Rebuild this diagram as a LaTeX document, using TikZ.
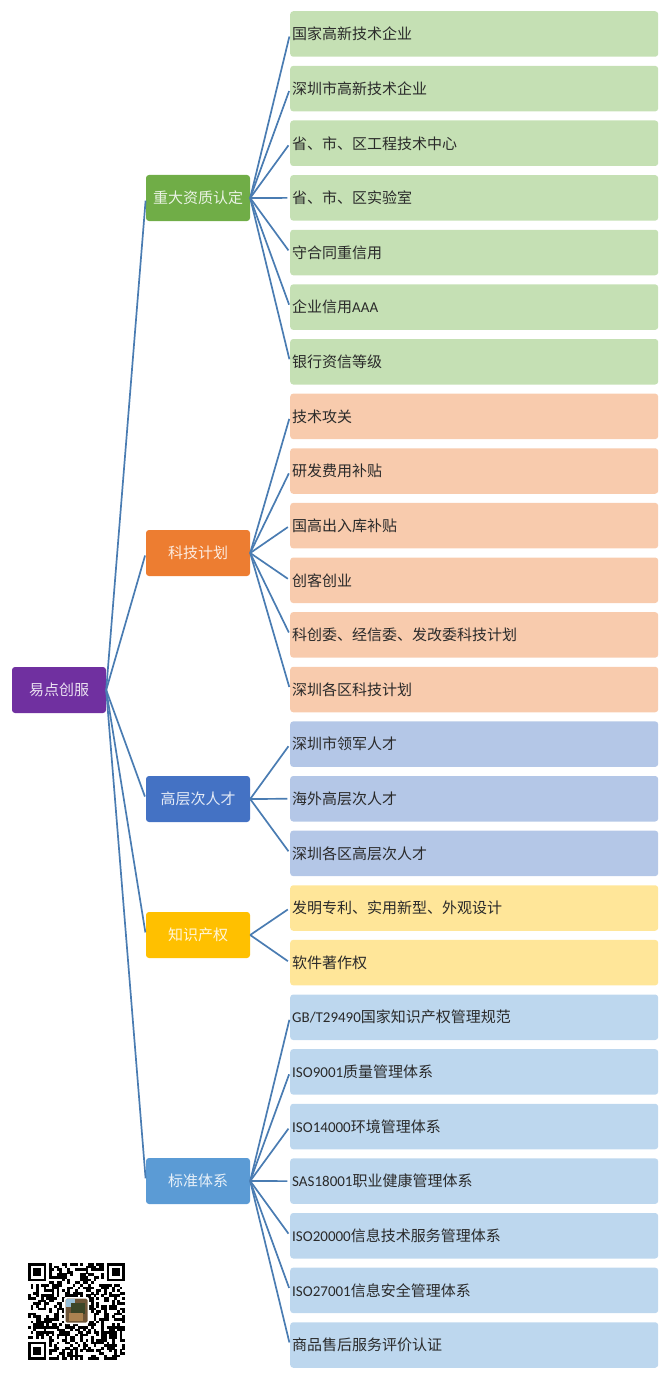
\documentclass[tikz,border=0pt]{standalone}
\usepackage{fontspec}
\setmainfont{Noto Sans CJK SC}
\newfontfamily\lat{Carlito}
\definecolor{lineblue}{HTML}{4A7CB2}
\definecolor{txt}{HTML}{2A2A2A}
\definecolor{lg}{HTML}{C5E0B4}
\definecolor{lo}{HTML}{F8CBAD}
\definecolor{ll}{HTML}{B4C7E7}
\definecolor{ly}{HTML}{FFE699}
\definecolor{lb}{HTML}{BDD7EE}
\definecolor{mr}{HTML}{7030A0}
\definecolor{mg}{HTML}{70AD47}
\definecolor{mo}{HTML}{ED7D31}
\definecolor{ml}{HTML}{4472C4}
\definecolor{my}{HTML}{FFC000}
\definecolor{mb}{HTML}{5B9BD5}
\definecolor{qa}{HTML}{6E5537}
\definecolor{qb}{HTML}{96BED7}
\definecolor{qc}{HTML}{3C4628}
\definecolor{qd}{HTML}{AA8250}
\tikzset{
  x=1pt,y=-1pt,
  box/.style={rounded corners=3pt,inner sep=0pt,font=\fontsize{15}{16}\selectfont},
  leaf/.style={box,fill=#1,text=txt,minimum height=45.5pt,text width=364pt,align=left,inner xsep=2pt,anchor=west},
  mainb/.style={box,fill=#1,text=white,text opacity=.85,minimum width=104pt,minimum height=46pt,align=center},
  link/.style={draw=lineblue,line width=1.7pt,shorten >=2.6pt},
  qrm/.style={fill=black}
}
\begin{document}
\begin{tikzpicture}
\useasboundingbox (0,0) rectangle (669,1383);
% root and main nodes
\node[mainb=mr,minimum width=94pt] (root) at (59,690) {易点创服};
\node[mainb=mg] (m1) at (198,198) {重大资质认定};
\node[mainb=mo] (m2) at (198,553) {科技计划};
\node[mainb=ml] (m3) at (198,799) {高层次人才};
\node[mainb=my] (m4) at (198,935) {知识产权};
\node[mainb=mb] (m5) at (198,1181) {标准体系};
% leaves
\foreach \i/\c/\t in {
 1/lg/国家高新技术企业,2/lg/深圳市高新技术企业,3/lg/省、市、区工程技术中心,4/lg/省、市、区实验室,5/lg/守合同重信用,6/lg/企业信用{\lat AAA},7/lg/银行资信等级,
 8/lo/技术攻关,9/lo/研发费用补贴,10/lo/国高出入库补贴,11/lo/创客创业,12/lo/科创委、经信委、发改委科技计划,13/lo/深圳各区科技计划,
 14/ll/深圳市领军人才,15/ll/海外高层次人才,16/ll/深圳各区高层次人才,
 17/ly/发明专利、实用新型、外观设计,18/ly/软件著作权,
 19/lb/{\lat GB/T29490}国家知识产权管理规范,20/lb/{\lat ISO9001}质量管理体系,21/lb/{\lat ISO14000}环境管理体系,22/lb/{\lat SAS18001}职业健康管理体系,23/lb/{\lat ISO20000}信息技术服务管理体系,24/lb/{\lat ISO27001}信息安全管理体系,25/lb/商品售后服务评价认证}
{
  \pgfmathsetmacro\yy{34+(\i-1)*54.625}
  \node[leaf=\c] (l\i) at (290,\yy) {\t};
}
% connectors
\foreach \m in {1,...,5} \draw[link] (root.east) -- (m\m.west);
\foreach \l in {1,...,7} \draw[link] (m1.east) -- (l\l.west);
\foreach \l in {8,...,13} \draw[link] (m2.east) -- (l\l.west);
\foreach \l in {14,15,16} \draw[link] (m3.east) -- (l\l.west);
\foreach \l in {17,18} \draw[link] (m4.east) -- (l\l.west);
\foreach \l in {19,...,25} \draw[link] (m5.east) -- (l\l.west);
% QR code
\begin{scope}[shift={(28,1263)},x=2.62pt,y=-2.62pt]
\pgfmathsetseed{4711}
\foreach \r in {0,...,36}{\foreach \q in {0,...,36}{
  \pgfmathsetmacro\v{rnd}
  \pgfmathparse{(\v<0.52)?1:0}\let\on\pgfmathresult
  \ifdim\on pt>0.5pt
    \pgfmathparse{((\r<8&&\q<8)||(\r<8&&\q>28)||(\r>28&&\q<8))?1:0}
    \ifdim\pgfmathresult pt<0.5pt
      \fill[qrm] (\q,\r) rectangle ++(1.02,1.02);
    \fi
  \fi
}}
\foreach \a/\b in {0/0,30/0,0/30}{
  \fill[qrm] (\a,\b) rectangle ++(7,7);
  \fill[white] (\a+1,\b+1) rectangle ++(5,5);
  \fill[qrm] (\a+2,\b+2) rectangle ++(3,3);
}
\end{scope}
\fill[white,rounded corners=2pt] (64,1297) rectangle (89,1324);
\fill[qa,rounded corners=1.5pt] (65.5,1298.5) rectangle (87.5,1322.5);
\fill[qb] (66,1299) rectangle (75,1307);
\fill[qc] (71,1303) rectangle (85,1314);
\fill[qd] (69,1313) rectangle (83,1321);
\end{tikzpicture}
\end{document}
